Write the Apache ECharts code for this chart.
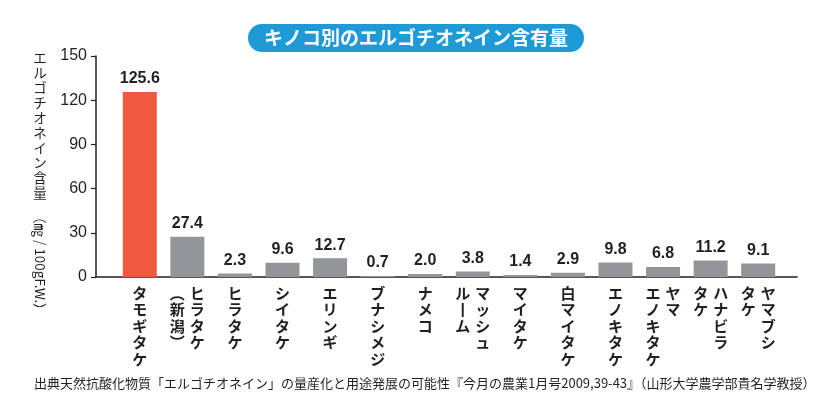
<!DOCTYPE html>
<html><head><meta charset="utf-8">
<script src="https://cdn.jsdelivr.net/npm/echarts@6/dist/echarts.min.js"></script>
<style>html,body{margin:0;padding:0;background:#fff}#c{width:824px;height:408px}</style>
</head><body><div id="c"></div>
<script>
var titleText = 'キノコ別のエルゴチオネイン含有量';
var categories = ['タモギタケ','ヒラタケ（新潟）','ヒラタケ','シイタケ','エリンギ','ブナシメジ','ナメコ','マッシュルーム','マイタケ','白マイタケ','エノキタケ','ヤマエノキタケ','ハナビラタケ','ヤマブシタケ'];
// vertical label columns (right column first, as in vertical Japanese writing)
var labelColumns = [['タモギタケ'],['ヒラタケ','︵新潟︶'],['ヒラタケ'],['シイタケ'],['エリンギ'],['ブナシメジ'],['ナメコ'],['マッシュ','ル丨ム'],['マイタケ'],['白マイタケ'],['エノキタケ'],['ヤマ','エノキタケ'],['ハナビラ','タケ'],['ヤマブシ','タケ']];
var values = [125.6,27.4,2.3,9.6,12.7,0.7,2.0,3.8,1.4,2.9,9.8,6.8,11.2,9.1];
var yTicks = [0,30,60,90,120,150];
var yAxisName = 'エルゴチオネイン含量';
var yAxisUnit = '（㎎ / 100gF.W.）';
var sourceText = '出典天然抗酸化物質「エルゴチオネイン」の量産化と用途発展の可能性『今月の農業1月号2009,39-43』（山形大学農学部貴名学教授）';

var RED = '#ef5a3f', GREY = '#939598', INK = '#231f20';
var JP = '"Noto Sans CJK JP", sans-serif';
var NUM = '"Liberation Sans", Arial, "Noto Sans CJK JP", sans-serif';

function verticalLabel(value, idx) {
  var cols = labelColumns[idx];
  var n = Math.max.apply(null, cols.map(function (c) { return c.length; }));
  var lines = [];
  for (var i = 0; i < n; i++) {
    var row = '';
    for (var k = cols.length - 1; k >= 0; k--) {
      var ch = cols[k].charAt(i) || ' ';
      row += '{c|' + ch + '}';
    }
    lines.push(row);
  }
  return lines.join('\n');
}

var chart = echarts.init(document.getElementById('c'), null, {renderer: 'canvas'});
chart.setOption({
  animation: false,
  title: {
    text: titleText, left: 248, top: 24,
    backgroundColor: '#1f9ad6', borderRadius: 14, padding: [4, 16],
    textStyle: {color: '#fff', fontSize: 19, fontWeight: 'bold', fontFamily: JP, lineHeight: 20}
  },
  grid: [
    {left: 96, right: 27, top: 56, bottom: 131},
    {left: 116, right: 42, top: 56, bottom: 131}
  ],
  xAxis: [
    {gridIndex: 0, type: 'value', min: 0, max: 1, axisLine: {show: true, lineStyle: {color: INK, width: 1.5}},
     axisTick: {show: false}, axisLabel: {show: false}, splitLine: {show: false}},
    {gridIndex: 1, type: 'category', data: categories, axisLine: {show: false}, axisTick: {show: false},
     axisLabel: {interval: 0, margin: 8, formatter: verticalLabel, verticalAlign: 'top',
       rich: {c: {width: 20, align: 'center', fontSize: 15, lineHeight: 16.5, fontWeight: 'bold', color: INK, fontFamily: JP}}}}
  ],
  yAxis: [
    {gridIndex: 0, type: 'value', min: 0, max: 150, interval: 30,
     axisLine: {show: true, lineStyle: {color: INK, width: 1.5}},
     axisTick: {show: true, length: 5, lineStyle: {color: INK, width: 1.2}},
     axisLabel: {margin: 9, fontSize: 16, color: INK, fontFamily: NUM},
     splitLine: {show: false}},
    {gridIndex: 1, type: 'value', min: 0, max: 150, show: false, splitLine: {show: false}}
  ],
  series: [{
    type: 'bar', xAxisIndex: 1, yAxisIndex: 1, barWidth: 34,
    data: values.map(function (v, i) { return {value: v, itemStyle: {color: i === 0 ? RED : GREY}}; }),
    label: {show: true, position: 'top', distance: 5, fontSize: 16, fontWeight: 'bold', color: INK, fontFamily: NUM,
      formatter: function (p) { return p.value.toFixed(1); }}
  }],
  graphic: [
    {type: 'text', x: 40, y: 50, style: {text: yAxisName.split('').join('\n'), fill: INK, font: '13.5px ' + JP, lineHeight: 15, textAlign: 'center', textVerticalAlign: 'top'}},
    {type: 'text', x: 40, y: 210, rotation: -Math.PI / 2, style: {text: yAxisUnit, fill: INK, font: '13.5px ' + JP, textAlign: 'left', textVerticalAlign: 'middle'}},
    {type: 'text', x: 34, y: 383, style: {text: sourceText, fill: INK, font: '13px ' + JP, textAlign: 'left', textVerticalAlign: 'middle'}}
  ]
});
</script></body></html>
